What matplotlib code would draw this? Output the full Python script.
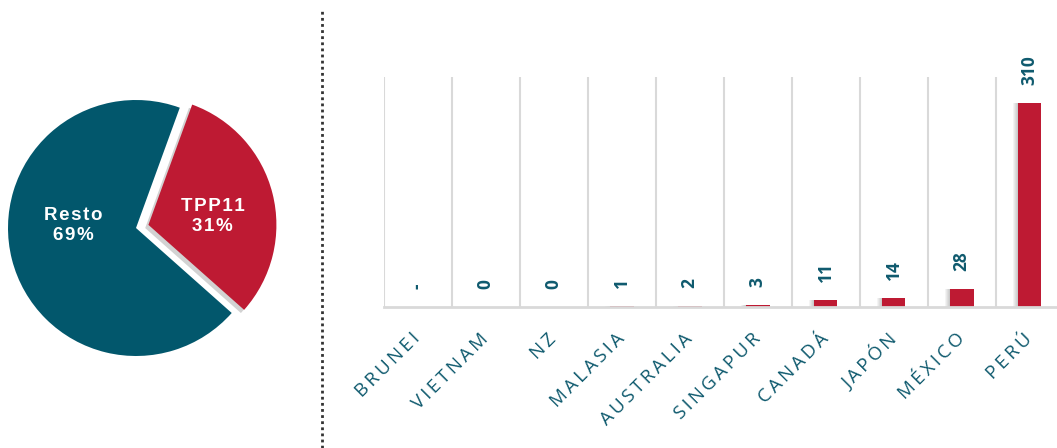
import matplotlib
matplotlib.use('Agg')
import matplotlib.pyplot as plt
from matplotlib.lines import Line2D
from matplotlib.patches import Shadow
import numpy as np

# ---- data ----
pie_labels = ["TPP11", "Resto"]
pie_shares = [31, 69]
countries = ["BRUNEI", "VIETNAM", "NZ", "MALASIA", "AUSTRALIA",
             "SINGAPUR", "CANADÁ", "JAPÓN", "MÉXICO", "PERÚ"]
values = [0, 0.2, 0.2, 1, 2, 3, 11, 14, 28, 310]
value_labels = ["-", "0", "0", "1", "2", "3", "11", "14", "28", "310"]

TEAL = "#02576c"
RED = "#be1a33"
TEXT = "#0f5a6e"
GRID = "#d9d9d9"

W, H = 1057, 448
fig = plt.figure(figsize=(W / 100, H / 100), dpi=100)
fig.patch.set_facecolor("white")


def px_axes(x0, y0, x1, y1):
    return fig.add_axes([x0 / W, 1 - y1 / H, (x1 - x0) / W, (y1 - y0) / H])


def spaced(s, sep="\u200a"):
    return sep.join(list(s))


FAM = ["Open Sans", "DejaVu Sans"]
PIEFAM = ["Liberation Sans", "DejaVu Sans"]

# ---- pie ----
axp = px_axes(8, 100, 264, 356)
wedges, _ = axp.pie(pie_shares, colors=[RED, TEAL], startangle=-41.6,
                    counterclock=True, explode=[0.1, 0], radius=1,
                    wedgeprops=dict(linewidth=0))
sh = Shadow(wedges[0], -0.018, -0.018, facecolor="#7f7f7f", alpha=0.35)
sh.set_zorder(wedges[0].get_zorder() - 0.5)
axp.add_patch(sh)
axp.set_xlim(-1, 1)
axp.set_ylim(-1, 1)
axp.axis("off")
pie_pos = [(0.60, 0.09), (-0.49, 0.02)]
for lab, share, (px, py) in zip(pie_labels, pie_shares, pie_pos):
    axp.text(px, py, spaced(lab) + "\n" + spaced(f"{share}%"),
             ha="center", va="center", color="white", fontsize=13.5,
             fontweight="bold", family=PIEFAM, linespacing=1.2)

# ---- separator ----
fig.add_artist(Line2D([322 / W, 322 / W], [0, 1 - 8 / H], transform=fig.transFigure,
                      color="#333333", lw=2, linestyle=(0, (1, 1.2))))

# ---- bars ----
ax = px_axes(383.6, 77, 1063.6, 307)
x = np.arange(len(countries))
# soft shadow to the left of each bar
for k in range(1, 6):
    ax.bar(x - k / 68.0, values, width=0.35, color="black", alpha=0.045,
           zorder=2, linewidth=0)
ax.bar(x, values, width=0.35, color=RED, zorder=3, linewidth=0)
ax.set_xlim(-0.5, len(countries) - 0.5)
ax.set_ylim(0, 350)
for b in np.arange(-0.5, len(countries), 1):
    ax.axvline(b, color=GRID, lw=1.5, zorder=1)
for s in ["top", "left", "right"]:
    ax.spines[s].set_visible(False)
ax.spines["bottom"].set_color(GRID)
ax.spines["bottom"].set_linewidth(2)
ax.spines["bottom"].set_zorder(4)
ax.set_yticks([])
ax.set_xticks(x)
ax.set_xticklabels([spaced(c, "\u2009") for c in countries], rotation=45, ha="right",
                   va="center", rotation_mode="anchor", color=TEXT,
                   fontsize=13.5, family=FAM)
ax.tick_params(axis="x", length=0, pad=21)

for i, (v, lbl) in enumerate(zip(values, value_labels)):
    ax.annotate(lbl, (i, v), xytext=(0, 13), textcoords="offset points",
                rotation=90, ha="center", va="bottom", fontweight="bold",
                color=TEXT, fontsize=12.5, family=FAM)

fig.savefig("out.png", dpi=100, facecolor="white")
